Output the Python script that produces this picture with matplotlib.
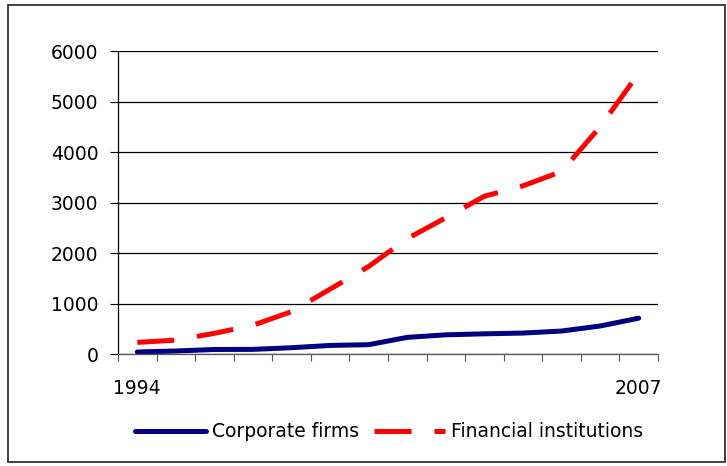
import matplotlib
matplotlib.use("Agg")
import matplotlib.pyplot as plt
from matplotlib.patches import Rectangle
import numpy as np

years = ["1994", "1995", "1996", "1997", "1998", "1999", "2000",
         "2001", "2002", "2003", "2004", "2005", "2006", "2007"]
corporate = [40, 60, 90, 92, 125, 170, 185, 330, 380, 400, 415, 455, 555, 710]
financial = [230, 275, 410, 570, 840, 1285, 1735, 2285, 2700, 3125, 3330, 3615, 4500, 5560]
yticks = [0, 1000, 2000, 3000, 4000, 5000, 6000]

plt.rcParams['font.family'] = ['DejaVu Sans']
fs = 13.5

fig = plt.figure(figsize=(7.27, 4.66), dpi=100)
ax = fig.add_axes([0.1623, 0.2403, 0.7428, 0.6502])

x = np.arange(len(years))
ax.plot(x, corporate, color='#000080', lw=3.6, solid_capstyle='round',
        solid_joinstyle='round', label='Corporate firms')
ax.plot(x, financial, color='#ff0000', lw=3.6, linestyle=(0, (7.4, 4.6)),
        dash_capstyle='butt', label='Financial institutions')

ax.set_xlim(-0.5, len(years) - 0.5)
ax.set_ylim(0, 6000)
ax.set_yticks(yticks)
ax.set_yticklabels([str(v) for v in yticks], fontsize=fs)
ax.grid(axis='y', color='black', lw=0.9)
ax.set_axisbelow(True)

# category boundaries get the tick marks, only the end years are labelled
ax.set_xticks(np.arange(-0.5, len(years), 1.0))
ax.set_xticklabels([])
ax.set_xticks([0, len(years) - 1], minor=True)
ax.set_xticklabels([years[0], years[-1]], minor=True, fontsize=fs)
ax.tick_params(axis='x', which='major', direction='out', length=5, width=0.8, color='#555555')
ax.tick_params(axis='x', which='minor', length=0, pad=18)
ax.tick_params(axis='y', direction='out', length=6, width=0.8, pad=8)

for s in ['top', 'right']:
    ax.spines[s].set_visible(False)
ax.spines['left'].set_linewidth(0.9)
ax.spines['bottom'].set_linewidth(0.9)
ax.spines['bottom'].set_color('#555555')

leg = fig.legend(loc='center', bbox_to_anchor=(0.535, 0.073), ncol=2, frameon=False,
                 fontsize=fs, handlelength=3.8, handletextpad=0.3, columnspacing=0.8)

fig.patches.append(Rectangle((0.011, 0.008), 0.986, 0.982, transform=fig.transFigure,
                             fill=False, edgecolor='#333333', lw=1.3))

fig.savefig('out.png', dpi=100)
